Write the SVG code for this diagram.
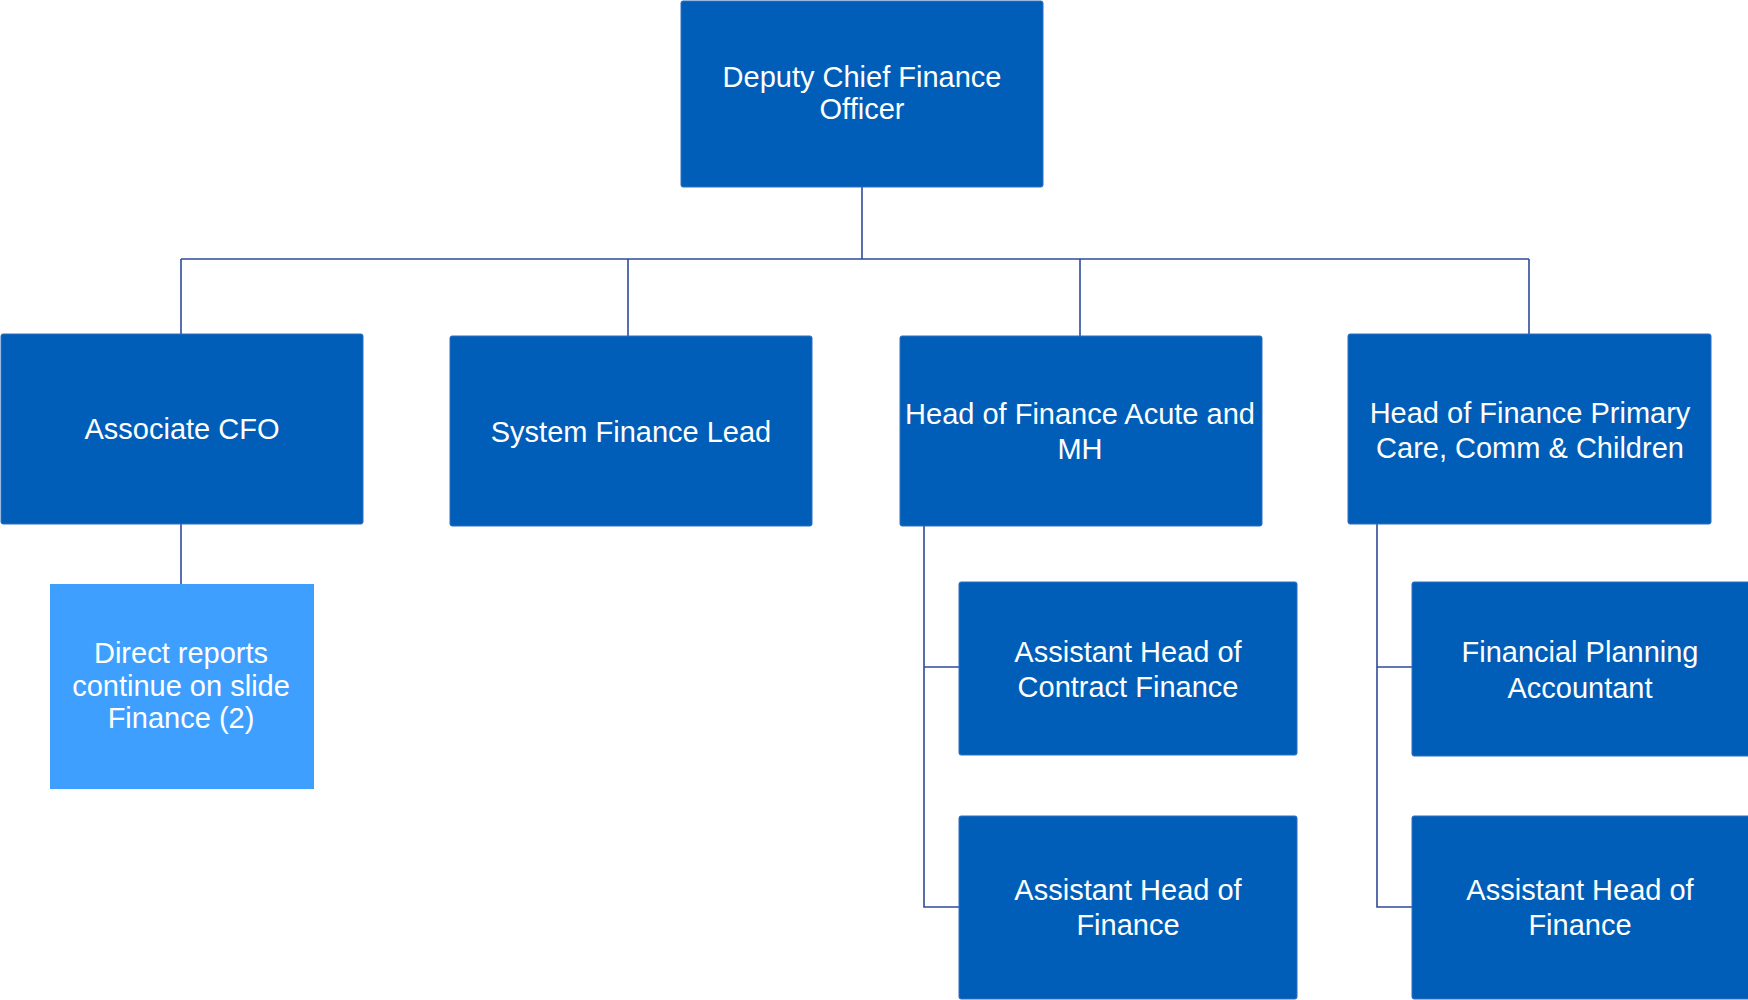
<svg xmlns="http://www.w3.org/2000/svg" width="1748" height="1000" viewBox="0 0 1748 1000">
<style>
.box{fill:#005EB8;stroke:#2F6FC0;stroke-width:1}
.light{fill:#3E9FFF;stroke:none}
.lbl{font-family:"Liberation Sans",Arial,sans-serif;font-size:29px;fill:#FFFFFF;text-anchor:middle}
.conn{fill:none;stroke:#2E4B9A;stroke-width:1.6}
</style>
<rect width="1748" height="1000" fill="#FFFFFF"/>
<g id="connectors">
<line class="conn" x1="862" y1="187" x2="862" y2="259"/>
<line class="conn" x1="181" y1="259" x2="1529" y2="259"/>
<line class="conn" x1="181" y1="259" x2="181" y2="334"/>
<line class="conn" x1="628" y1="259" x2="628" y2="336"/>
<line class="conn" x1="1080" y1="259" x2="1080" y2="336"/>
<line class="conn" x1="1529" y1="259" x2="1529" y2="334"/>
<line class="conn" x1="181" y1="524" x2="181" y2="584"/>
<polyline class="conn" points="924,526 924,907 959,907"/>
<line class="conn" x1="924" y1="667" x2="959" y2="667"/>
<polyline class="conn" points="1377,524 1377,907 1412,907"/>
<line class="conn" x1="1377" y1="667" x2="1412" y2="667"/>
</g>
<g id="node-deputy-cfo">
<rect class="box" x="681" y="1" width="362" height="186" rx="2"/>
<text class="lbl" x="862" y="87">Deputy Chief Finance</text>
<text class="lbl" x="862" y="119">Officer</text>
</g>
<g id="node-associate-cfo">
<rect class="box" x="1" y="334" width="362" height="190" rx="2"/>
<text class="lbl" x="182" y="439">Associate CFO</text>
</g>
<g id="node-system-finance-lead">
<rect class="box" x="450" y="336" width="362" height="190" rx="2"/>
<text class="lbl" x="631" y="442">System Finance Lead</text>
</g>
<g id="node-head-acute">
<rect class="box" x="900" y="336" width="362" height="190" rx="2"/>
<text class="lbl" x="1080" y="424">Head of Finance Acute and</text>
<text class="lbl" x="1080" y="459">MH</text>
</g>
<g id="node-head-primary">
<rect class="box" x="1348" y="334" width="363" height="190" rx="2"/>
<text class="lbl" x="1530" y="423">Head of Finance Primary</text>
<text class="lbl" x="1530" y="458">Care, Comm &amp; Children</text>
</g>
<g id="node-direct-reports">
<rect class="light" x="50" y="584" width="264" height="205"/>
<text class="lbl" x="181" y="663">Direct reports</text>
<text class="lbl" x="181" y="696">continue on slide</text>
<text class="lbl" x="181" y="728">Finance (2)</text>
</g>
<g id="node-asst-contract">
<rect class="box" x="959" y="582" width="338" height="173" rx="2"/>
<text class="lbl" x="1128" y="662">Assistant Head of</text>
<text class="lbl" x="1128" y="697">Contract Finance</text>
</g>
<g id="node-asst-finance-1">
<rect class="box" x="959" y="816" width="338" height="183" rx="2"/>
<text class="lbl" x="1128" y="900">Assistant Head of</text>
<text class="lbl" x="1128" y="935">Finance</text>
</g>
<g id="node-fin-planning">
<rect class="box" x="1412" y="582" width="340" height="174" rx="2"/>
<text class="lbl" x="1580" y="662">Financial Planning</text>
<text class="lbl" x="1580" y="698">Accountant</text>
</g>
<g id="node-asst-finance-2">
<rect class="box" x="1412" y="816" width="340" height="183" rx="2"/>
<text class="lbl" x="1580" y="900">Assistant Head of</text>
<text class="lbl" x="1580" y="935">Finance</text>
</g>
</svg>
